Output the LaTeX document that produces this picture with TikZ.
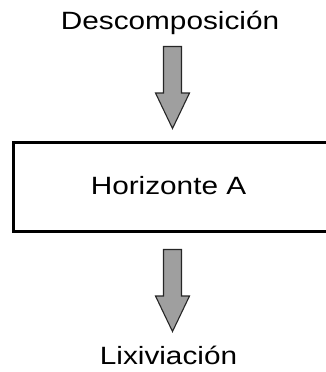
\documentclass[tikz,border=0pt]{standalone}
\usepackage{fontspec}
\setmainfont{Liberation Sans}
\begin{document}
\begin{tikzpicture}[x=1pt,y=-1pt,
  lbl/.style={anchor=base,inner sep=0pt,font=\fontsize{25}{28}\selectfont},
  hbox/.style={draw=black,line width=3pt,minimum width=326.5pt,minimum height=89pt,inner sep=0pt},
  fatarrow/.pic={\draw[fill=gray!75,draw=black!85,line width=1.1pt,line join=miter]
      (-9,0) -- (9,0) -- (9,46.5) -- (17,46.5) -- (0,82) -- (-17,46.5) -- (-9,46.5) -- cycle;}]
\useasboundingbox (0,0) rectangle (326,372);
\node[lbl] (top) at (170,29.3) {\scalebox{1.19}[1]{Descomposición}};
\node[hbox] (box) at (176.75,187) {};
\node[lbl] (hz) at (168.5,194) {\scalebox{1.19}[1]{Horizonte A}};
\node[lbl] (bot) at (168.5,364.3) {\scalebox{1.19}[1]{Lixiviación}};
\coordinate (a1) at (172.5,46.5);
\coordinate (a2) at (172.5,249.5);
\pic at (a1) {fatarrow};
\pic at (a2) {fatarrow};
\end{tikzpicture}
\end{document}
